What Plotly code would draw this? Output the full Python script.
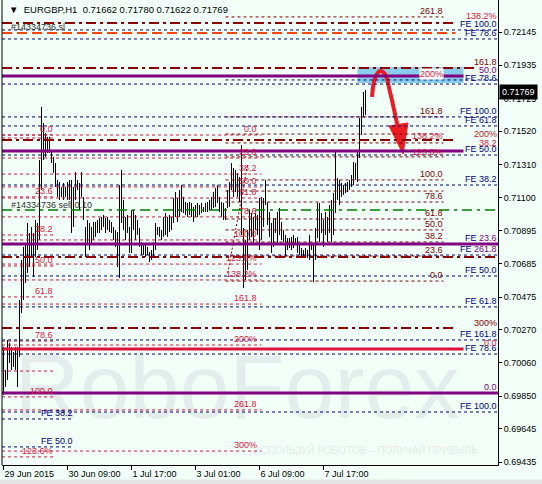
import plotly.graph_objects as go

# EURGBP H1 bars from 29 Jun 2015 01:00, x = bar number (weekend gap removed)
highs = [0.70161, 0.70016, 0.70205, 0.70186, 0.70161, 0.70129, 0.70161, 0.70161, 0.70457, 0.70709,
         0.70791, 0.70816, 0.70942, 0.70879, 0.70917, 0.70879, 0.70961, 0.70942, 0.71339, 0.71673,
         0.71572, 0.71509, 0.71484, 0.71484, 0.71402, 0.71358, 0.71320, 0.71213, 0.71200, 0.71169,
         0.71194, 0.71169, 0.71200, 0.71213, 0.71213, 0.71169, 0.71263, 0.71213, 0.71194, 0.71263,
         0.71106, 0.70917, 0.70961, 0.70942, 0.70917, 0.70948, 0.70948, 0.70961, 0.70973, 0.70980,
         0.70992, 0.70973, 0.70980, 0.70961, 0.70948, 0.70917, 0.70898, 0.70885, 0.71181, 0.71276,
         0.71087, 0.70980, 0.70992, 0.70917, 0.71024, 0.71024, 0.70992, 0.70961, 0.70910, 0.70822,
         0.70816, 0.70803, 0.70791, 0.70759, 0.70772, 0.70822, 0.70942, 0.70917, 0.70917, 0.70898,
         0.70980, 0.71005, 0.70980, 0.70992, 0.70980, 0.71099, 0.71137, 0.71099, 0.71150, 0.71181,
         0.71106, 0.71074, 0.71068, 0.71074, 0.71068, 0.71043, 0.71055, 0.71068, 0.71055, 0.71068,
         0.71043, 0.71068, 0.71074, 0.71087, 0.71106, 0.71137, 0.71162, 0.71181, 0.71106, 0.71074,
         0.71068, 0.71036, 0.71150, 0.71200, 0.71320, 0.71288, 0.71276, 0.71257, 0.71232, 0.71433,
         0.70910, 0.70835, 0.70898, 0.71024, 0.71005, 0.70980, 0.71005, 0.70992, 0.71099, 0.71106,
         0.71099, 0.71213, 0.71074, 0.71011, 0.70942, 0.70973, 0.70973, 0.71011, 0.71036, 0.70948,
         0.70898, 0.70866, 0.70847, 0.70847, 0.70854, 0.70866, 0.70847, 0.70854, 0.70803, 0.70784,
         0.70772, 0.70784, 0.70772, 0.70866, 0.70816, 0.70803, 0.70910, 0.71068, 0.71068, 0.71005,
         0.70961, 0.71011, 0.70980, 0.71055, 0.71087, 0.71131, 0.71389, 0.71225, 0.71213, 0.71194,
         0.71181, 0.71194, 0.71200, 0.71213, 0.71244, 0.71326, 0.71320, 0.71389, 0.71603, 0.71673,
         0.71767, 0.71780]
lows = [0.69858, 0.69909, 0.69953, 0.70060, 0.70016, 0.70035, 0.70016, 0.69909, 0.70098, 0.70375,
        0.70457, 0.70564, 0.70627, 0.70665, 0.70728, 0.70602, 0.70728, 0.70772, 0.70835, 0.71150,
        0.71339, 0.71358, 0.71383, 0.71383, 0.71320, 0.71257, 0.71169, 0.71106, 0.71087, 0.71106,
        0.71087, 0.71106, 0.71087, 0.71087, 0.70879, 0.70917, 0.71087, 0.71150, 0.71024, 0.71106,
        0.70961, 0.70728, 0.70816, 0.70772, 0.70816, 0.70835, 0.70854, 0.70879, 0.70879, 0.70898,
        0.70917, 0.70879, 0.70898, 0.70885, 0.70879, 0.70835, 0.70791, 0.70665, 0.70595, 0.70942,
        0.70898, 0.70835, 0.70879, 0.70753, 0.70753, 0.70898, 0.70835, 0.70866, 0.70791, 0.70740,
        0.70740, 0.70728, 0.70740, 0.70696, 0.70709, 0.70728, 0.70772, 0.70866, 0.70854, 0.70835,
        0.70854, 0.70866, 0.70854, 0.70885, 0.70898, 0.70942, 0.70980, 0.70948, 0.70980, 0.71011,
        0.71005, 0.70992, 0.70980, 0.70992, 0.70980, 0.70948, 0.70980, 0.70980, 0.70992, 0.71005,
        0.71011, 0.71011, 0.71011, 0.71024, 0.71024, 0.71036, 0.71043, 0.71068, 0.71011, 0.70980,
        0.70961, 0.70961, 0.71036, 0.71043, 0.71150, 0.71106, 0.71137, 0.71106, 0.71074, 0.70866,
        0.70532, 0.70583, 0.70646, 0.70835, 0.70854, 0.70816, 0.70898, 0.70866, 0.70772, 0.70835,
        0.70917, 0.71055, 0.70929, 0.70854, 0.70753, 0.70791, 0.70879, 0.70816, 0.70866, 0.70835,
        0.70822, 0.70728, 0.70772, 0.70784, 0.70772, 0.70784, 0.70803, 0.70753, 0.70740, 0.70721,
        0.70721, 0.70728, 0.70721, 0.70709, 0.70772, 0.70570, 0.70709, 0.70847, 0.70822, 0.70879,
        0.70791, 0.70866, 0.70822, 0.70879, 0.70822, 0.70866, 0.71005, 0.71087, 0.71055, 0.71106,
        0.71118, 0.71131, 0.71137, 0.71150, 0.71169, 0.71181, 0.71213, 0.71200, 0.71351, 0.71496,
        0.71610, 0.71622]

last_ohlc = [0.71662, 0.71780, 0.71622, 0.71769]

x_tick_bars = [0, 32, 64, 96, 128, 160]
x_tick_text = ["29 Jun 2015", "30 Jun 09:00", "1 Jul 17:00", "3 Jul 01:00", "6 Jul 09:00", "7 Jul 17:00"]
y_tick_vals = [0.72145, 0.71935, 0.71725, 0.71520, 0.71310, 0.71100, 0.70895,
               0.70685, 0.70475, 0.70270, 0.70060, 0.69850, 0.69645, 0.69435]

# fibo expansion levels (navy, whole width)
fe_prices = [0.72158, 0.72101, 0.71817, 0.71610, 0.71553, 0.71370, 0.71181,
             0.70740, 0.70608, 0.70413, 0.70205, 0.70116, 0.69751]
fe_labels = ["FE 100.0", "FE 78.6", "FE 78.6", "FE 100.0", "FE 61.8", "FE 50.0", "FE 38.2",
             "FE <span style='color:#800080'>261.8</span>", "FE 50.0", "FE 61.8", "FE 161.8",
             "FE 78.6", "FE 100.0"]
fe_left_prices = [0.69707, 0.69531]
fe_left_labels = ["FE 38.2", "FE 50.0"]
fe_short_price = 0.71843

# fibo grids
fib_r_prices = [0.72240, 0.71610, 0.71502, 0.71446, 0.71358, 0.71213, 0.71143,
                0.71074, 0.70967, 0.70898, 0.70822, 0.70734, 0.70576]
fib_r_labels = ["261.8", "161.8", "", "", "", "100.0", "", "78.6", "61.8", "50.0", "38.2", "23.6", "0.0"]
fib_m_prices = [0.71496, 0.71351, 0.71250, 0.71169, 0.71099, 0.70980, 0.70835,
                0.70683, 0.70583, 0.70431, 0.70173, 0.69764, 0.69505]
fib_m_labels = ["0.0", "23.6", "38.2", "50.0", "61.8", "78.6", "100.0",
                "123.6%", "138.2%", "161.8", "200%", "261.8", "300%"]
fib_l_prices = [0.71496, 0.71477, 0.71106, 0.70866, 0.70671, 0.70476, 0.70198, 0.70009, 0.69846, 0.69468]
fib_l_labels = ["0.0", "", "23.6", "38.2", "50.0", "61.8", "78.6", "", "100.0", "123.6%"]

# hand drawn levels
purple_levels = [0.71868, 0.71395, 0.70809, 0.69871]
crimson_levels = [0.70148]
dashdot_levels = [0.72202, 0.71918, 0.71465, 0.70728, 0.70280]
sl_level = 0.72139
order_level = 0.71024

# loose level captions
right_caps = ["138.2%", "161.8", "50.0", "200%", "38.2", "300%", "0.0"]
right_caps_y = [0.72246, 0.71956, 0.71906, 0.71502, 0.71446, 0.70312, 0.70186]
mid_caps = ["200%", "138.2%", "123.6%"]
mid_caps_y = [0.71880, 0.71490, 0.71389]

# target zone and forecast arrow (bar number, price)
zone = [177, 230, 0.71824, 0.71925]
arrow_x = [184.25, 185.75, 188.25, 190.75, 193.25, 195.75, 197.25]
arrow_y = [0.71736, 0.71855, 0.71899, 0.71880, 0.71767, 0.71628, 0.71540]
head_x = [192.75, 202.25, 199.75]
head_y = [0.71553, 0.71572, 0.71376]
trend_x = [122.0, 112.0]
trend_y = [0.71307, 0.70616]

X_LEFT, X_RIGHT = -0.75, 247.25
Y_LOW, Y_HIGH = 0.694171, 0.723466
FONT = "Liberation Sans, Arial, sans-serif"
NAVY, MAROON, CRIMSON, PURPLE, DARKRED = "#000080", "#800000", "#DC143C", "#800080", "#8B0000"

fig = go.Figure()

# watermark
fig.add_trace(go.Scatter(x=[116.75], y=[0.69858], mode="text", text=["RoboForex"],
                         textfont=dict(size=90, color="#E3EDEB", family=FONT),
                         hoverinfo="skip"))
fig.add_trace(go.Scatter(x=[181], y=[0.69505], mode="text", text=["ИСПОЛЬЗУЙ РОБОТОВ – ПОЛУЧАЙ ПРИБЫЛЬ"],
                         textfont=dict(size=10, color="#E3EBEA", family=FONT), hoverinfo="skip"))

shapes = []


def hline(y, x0, x1, color, width=1, dash="3px,3px"):
    shapes.append(dict(type="line", xref="x", yref="y", x0=x0, x1=x1, y0=y, y1=y,
                       line=dict(color=color, width=width, dash=dash)))


shapes.append(dict(type="rect", xref="x", yref="y", x0=zone[0], x1=zone[1], y0=zone[2], y1=zone[3],
                   fillcolor="#87CEEB", line=dict(width=0), layer="below"))

for p in fib_m_prices:
    hline(p, X_LEFT, 129, CRIMSON)
for p in fib_l_prices:
    hline(p, X_LEFT, 26, CRIMSON)
for p in fib_r_prices:
    hline(p, 111, 220, MAROON)
for p in fe_prices:
    hline(p, X_LEFT, X_RIGHT, NAVY)
for p in fe_left_prices:
    hline(p, X_LEFT, 35, NAVY)
hline(fe_short_price, 111, X_RIGHT, NAVY)

for p, x1 in zip(dashdot_levels, [225, 236, 226, X_RIGHT, 225]):
    hline(p, X_LEFT, x1, DARKRED, 2, "10px,4px,3px,4px")
hline(sl_level, X_LEFT, 226, "#FF4500", 2, "10px,5px")
hline(order_level, X_LEFT, X_RIGHT, "#008000", 1.5, "10px,5px,3px,5px")
for p, x1 in zip(purple_levels, [230, 230, X_RIGHT, X_RIGHT]):
    hline(p, X_LEFT, x1, PURPLE, 3, "solid")
for p in crimson_levels:
    hline(p, X_LEFT, 230, CRIMSON, 3, "solid")

# chart frame left edge and bottom grey strip
shapes.append(dict(type="line", xref="paper", yref="paper", x0=0, x1=0, y0=0, y1=1,
                   line=dict(color="black", width=1)))
shapes.append(dict(type="rect", xref="paper", yref="paper", x0=-0.01, x1=1.1, y0=-0.042, y1=-0.031,
                   fillcolor="#E4E4E4", line=dict(width=0)))

# trend line of the middle grid
fig.add_trace(go.Scatter(x=trend_x, y=trend_y, mode="lines",
                         line=dict(color=DARKRED, width=1, dash="2px,2px"), hoverinfo="skip"))

# price bars
bx, by = [], []
for i, (h, l) in enumerate(zip(highs, lows)):
    bx += [i, i, None]
    by += [l, h, None]
fig.add_trace(go.Scatter(x=bx, y=by, mode="lines", line=dict(color="black", width=1), hoverinfo="skip"))

# forecast arrow
fig.add_trace(go.Scatter(x=arrow_x, y=arrow_y, mode="lines", line=dict(color="#EC1C24", width=4, shape="spline"),
                         hoverinfo="skip"))
fig.add_trace(go.Scatter(x=head_x + head_x[:1], y=head_y + head_y[:1], mode="lines", fill="toself",
                         fillcolor="#EC1C24", line=dict(color="#EC1C24", width=1), hoverinfo="skip"))

annotations = []


def label(x, y, text, color, xanchor="right", shift=6, bg=None):
    annotations.append(dict(x=x, y=y, xref="x", yref="y", text=text, showarrow=False,
                            xanchor=xanchor, yanchor="middle", yshift=shift, borderpad=0,
                            bgcolor=bg, font=dict(size=9, color=color, family=FONT)))


for p, t in zip(fib_m_prices, fib_m_labels):
    label(127, p, t, CRIMSON)
for p, t in zip(fib_l_prices, fib_l_labels):
    if t:
        label(25, p, t, CRIMSON)
for p, t in zip(fib_r_prices, fib_r_labels):
    if t:
        label(220, p, t, MAROON)
for p, t in zip(fe_prices, fe_labels):
    label(247, p, t, NAVY)
for p, t in zip(fe_left_prices, fe_left_labels):
    label(35, p, t, NAVY)
label(247, purple_levels[2], "FE <span style='color:#800080'>23.6</span>", NAVY)
label(247, 0.69871, "0.0", PURPLE)

cap_colors = [CRIMSON, MAROON, PURPLE, "#B22222", CRIMSON, DARKRED, CRIMSON]
for t, p, c in zip(right_caps, right_caps_y, cap_colors):
    label(247, p, t, c, shift=0)
for t, p in zip(mid_caps, mid_caps_y):
    label(220, p, t, CRIMSON, shift=0, bg="white" if t == "200%" else None)

label(3.25, sl_level, "#14334736 sl", "#303030", xanchor="left", shift=6)
label(3.25, order_level, "#14334736 sell 0.10", "#303030", xanchor="left", shift=5)

# symbol header
annotations.append(dict(x=1.5, y=0.72284, xref="x", yref="y", showarrow=False, xanchor="left", yanchor="middle",
                        text="▼\u00a0 EURGBP,H1\u00a0\u00a0" + " ".join(f"{v:.5f}" for v in last_ohlc),
                        font=dict(size=9.5, color="black", family=FONT)))
# current price box
annotations.append(dict(x=1, y=last_ohlc[3], xref="paper", yref="y", showarrow=False, xanchor="left",
                        yanchor="middle", xshift=1, text=f"{last_ohlc[3]:.5f}", bgcolor="black", borderpad=2,
                        font=dict(size=9, color="white", family=FONT)))

fig.update_layout(
    width=542, height=484,
    margin=dict(l=2, r=44, t=0, b=19),
    paper_bgcolor="#F2FFF9", plot_bgcolor="#F2FFF9",
    showlegend=False,
    shapes=shapes, annotations=annotations,
    font=dict(family=FONT, size=9, color="black"),
    xaxis=dict(range=[X_LEFT, X_RIGHT], showgrid=False, zeroline=False, showline=True, linecolor="black",
               linewidth=1, ticks="outside", ticklen=4, tickcolor="black",
               tickvals=x_tick_bars, ticktext=x_tick_text, ticklabelposition="outside right",
               tickfont=dict(size=9, color="black")),
    yaxis=dict(range=[Y_LOW, Y_HIGH], side="right", showgrid=False, zeroline=False, showline=True,
               linecolor="black", linewidth=1, ticks="outside", ticklen=3, tickcolor="black",
               tickvals=y_tick_vals, ticktext=[f"{v:.5f}" for v in y_tick_vals],
               tickfont=dict(size=9, color="black")),
)

# page body has a default 8px margin; drop it so the figure sits at the window origin
fig.write_html("out.html", config={"displayModeBar": False},
               post_script="document.body.style.margin='0';")
